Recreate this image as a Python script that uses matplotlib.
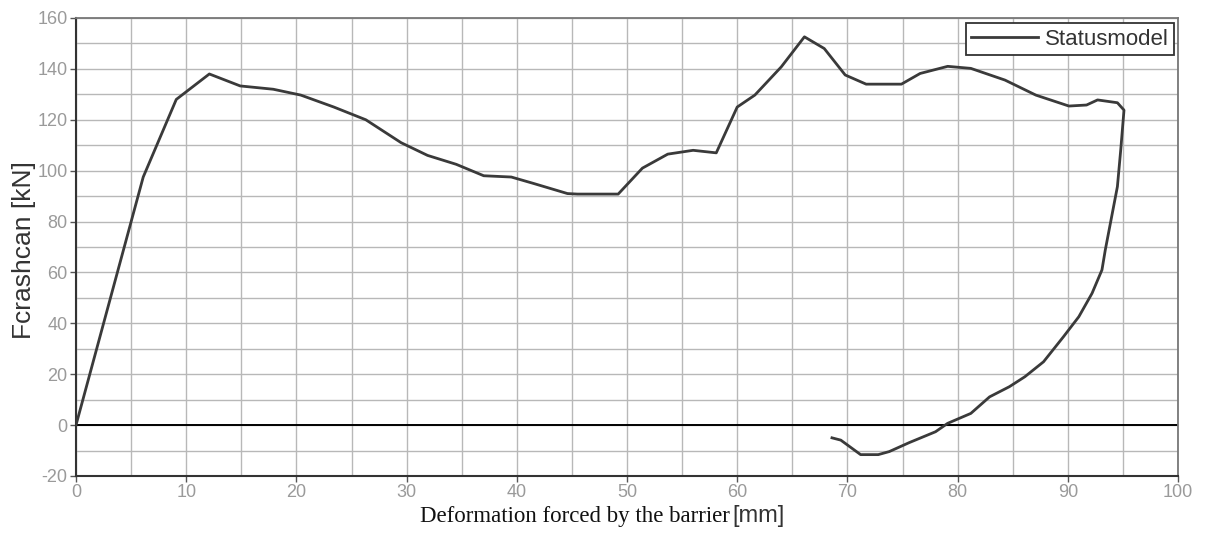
import numpy as np
import matplotlib
matplotlib.use("Agg")
import matplotlib.pyplot as plt
from matplotlib.ticker import MultipleLocator

plt.rcParams["axes.unicode_minus"] = False

# --- data (path order: loading, then unloading back) ---
deformation = [0, 6.1, 9.1, 12.1, 14.9, 17.9, 20.4, 23.4, 26.3, 29.5, 31.9, 34.5,
               37.0, 39.5, 41.5, 44.6, 45.5, 49.2, 51.4, 53.7, 56.0, 58.1, 60.0,
               61.6, 64.0, 66.1, 67.9, 69.8, 71.7, 74.9, 76.6, 79.1, 81.2, 84.3,
               87.1, 90.1, 91.7, 92.7, 94.5, 95.1, 94.8, 94.5, 93.4, 93.1, 92.2,
               91.0, 89.6, 87.8, 86.1, 84.7, 82.9, 81.2, 79.1, 78.0, 75.6, 73.8,
               72.8, 71.2, 69.4, 68.6]
force = [0, 97.5, 128, 138, 133.3, 132, 129.7, 125, 120, 111, 106, 102.5,
         98, 97.5, 95, 91, 90.8, 90.8, 101, 106.5, 108, 107, 125,
         129.7, 140.8, 152.6, 148, 137.6, 134, 134, 138.2, 141, 140.2, 135.6,
         129.7, 125.4, 125.8, 127.8, 126.7, 123.8, 108, 93.7, 68.8, 61, 51.8,
         42.6, 34.7, 24.9, 19, 15.1, 11.1, 4.6, 0.7, -2.6, -6.9, -10.4,
         -11.6, -11.6, -5.9, -5.0]

series_name = "Statusmodel"
x_limits = (0, 100)
y_limits = (-20, 160)

# --- figure ---
fig = plt.figure(figsize=(12.06, 5.34), dpi=100)
ax = fig.add_axes([76 / 1206, 58 / 534, 1102 / 1206, 458 / 534])

ax.plot(deformation, force, color="#3a3a3a", linewidth=2.0, label=series_name, zorder=3)
ax.axhline(0, color="black", linewidth=1.4, zorder=2)

ax.set_xlim(*x_limits)
ax.set_ylim(*y_limits)
ax.xaxis.set_major_locator(MultipleLocator(10))
ax.xaxis.set_minor_locator(MultipleLocator(5))
ax.yaxis.set_major_locator(MultipleLocator(20))
ax.yaxis.set_minor_locator(MultipleLocator(10))
ax.grid(which="both", color="#b8b8b8", linewidth=1.0, zorder=0)
ax.set_axisbelow(True)

ax.tick_params(which="major", direction="out", length=4, width=1, color="#555555",
               labelsize=13, labelcolor="#9a9a9a", pad=2)
ax.tick_params(which="minor", length=0)
for lab in ax.get_xticklabels() + ax.get_yticklabels():
    lab.set_fontfamily("Liberation Sans")

for side in ["left", "bottom"]:
    ax.spines[side].set_color("#333333")
    ax.spines[side].set_linewidth(1.5)
for side in ["top", "right"]:
    ax.spines[side].set_color("#777777")
    ax.spines[side].set_linewidth(1.3)

# y label
fig.text(24 / 1206, 284 / 534, "Fcrashcan [kN]", rotation=90, ha="center", va="center",
         fontsize=19, color="#333333", family="Liberation Sans")

# x label: serif words followed by sans unit
fig.text(730 / 1206, 12 / 534, "Deformation forced by the barrier", ha="right",
         va="baseline", fontsize=16.5, family="Liberation Serif", color="#111111")
fig.text(732 / 1206, 12 / 534, "[mm]", ha="left", va="baseline", fontsize=17,
         family="Liberation Sans", color="#333333")

leg = ax.legend(loc="upper right", bbox_to_anchor=(1174 / 1206, 511 / 534),
                bbox_transform=fig.transFigure, fancybox=False, framealpha=1,
                edgecolor="#333333", prop={"family": "Liberation Sans", "size": 16},
                handlelength=3.0, handletextpad=0.3, borderpad=0.25, borderaxespad=0)
leg.get_frame().set_linewidth(1.3)
for t in leg.get_texts():
    t.set_color("#333333")

fig.savefig("out.png", dpi=100)
